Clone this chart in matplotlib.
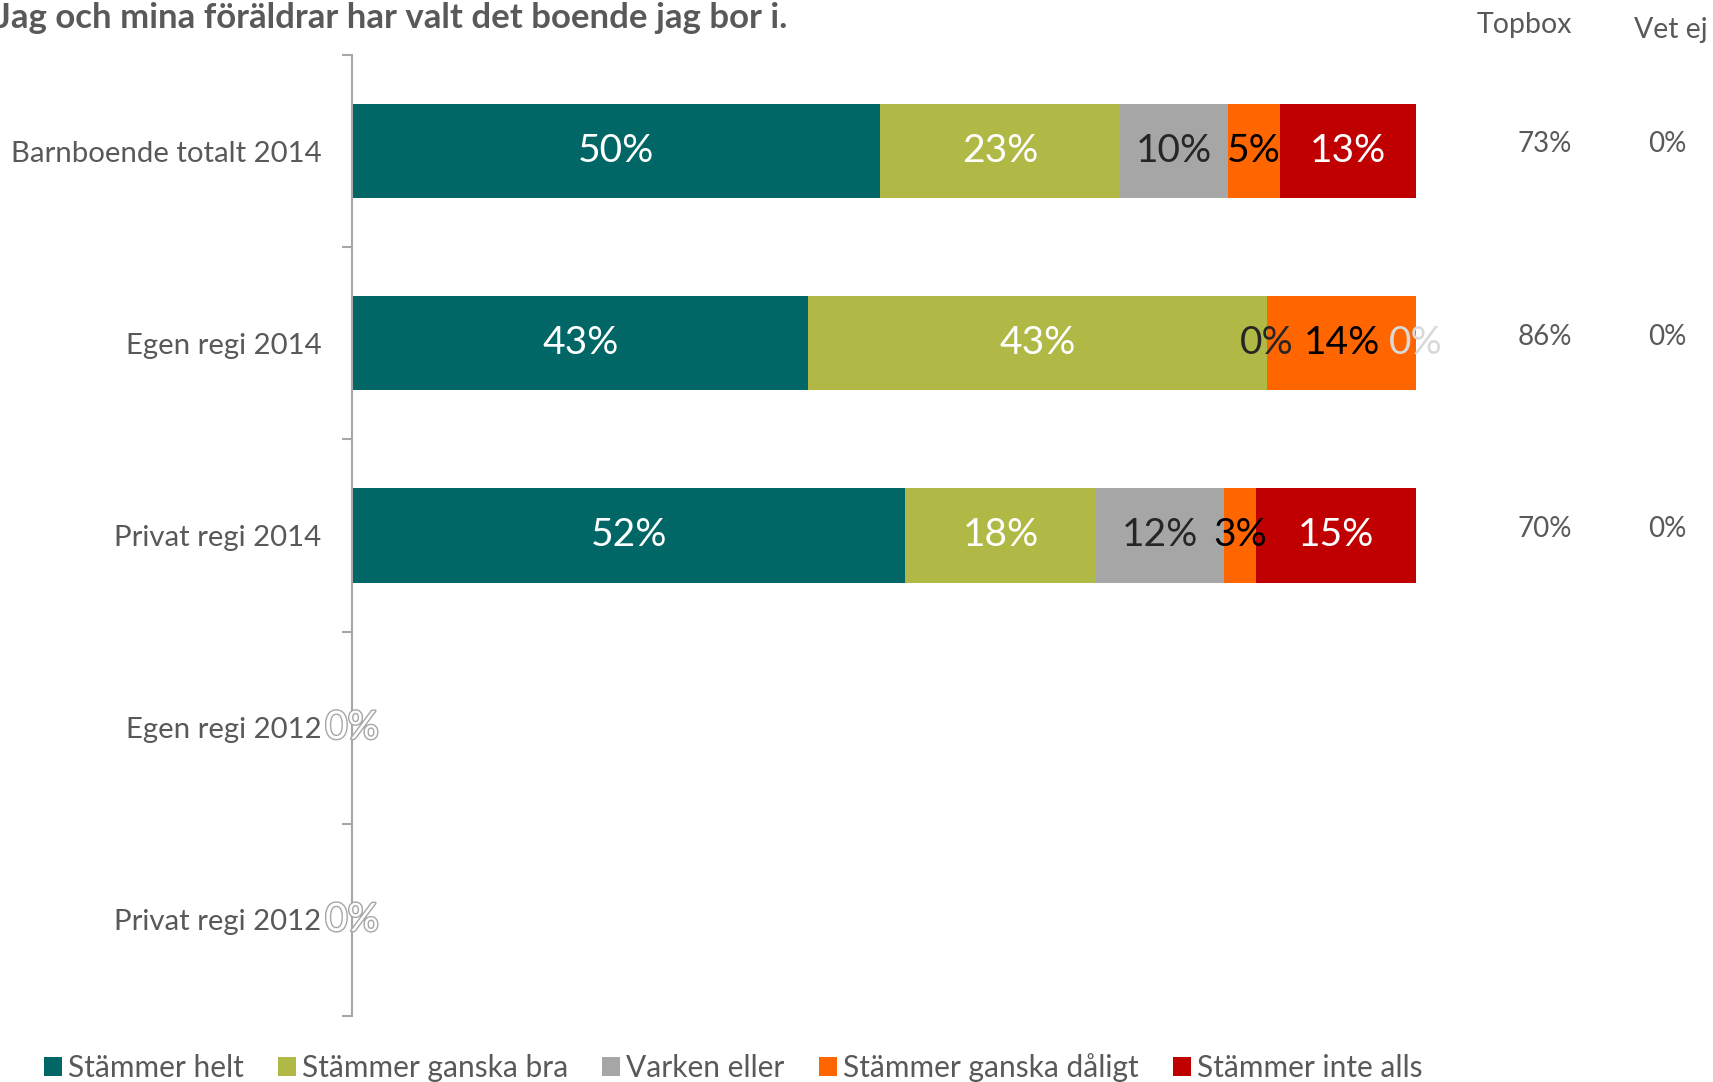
import matplotlib
matplotlib.use("Agg")
import matplotlib.pyplot as plt
import matplotlib.patheffects as pe
from matplotlib.transforms import blended_transform_factory

plt.rcParams['font.family'] = ['Lato', 'DejaVu Sans']

# data
categories = ["Barnboende totalt 2014", "Egen regi 2014", "Privat regi 2014",
              "Egen regi 2012", "Privat regi 2012"]
series = ["Stämmer helt", "Stämmer ganska bra", "Varken eller",
          "Stämmer ganska dåligt", "Stämmer inte alls"]
helt = [49.6, 42.9, 52.0, 0, 0]
bra = [22.6, 43.1, 17.9, 0, 0]
varken = [10.1, 0.0, 12.1, 0, 0]
daligt = [4.9, 14.0, 3.0, 0, 0]
inte = [12.8, 0.0, 15.0, 0, 0]
topbox = [73, 86, 70]
vetej = [0, 0, 0]

colors = ["#006666", "#B0B945", "#A6A6A6", "#FF6600", "#C00000"]
label_colors = ["white", "white", "#262626", "black", "white"]
grey = "#595959"

fig = plt.figure(figsize=(17.13, 10.82), dpi=100)
ax = fig.add_axes([352/1713, 1 - 1016/1082, (1416 - 352)/1713, (1016 - 55)/1082])

ypos = list(range(len(categories)))
left = [0.0] * len(categories)
for vals, name, col, lc in zip([helt, bra, varken, daligt, inte], series, colors, label_colors):
    ax.barh(ypos, vals, left=left, height=0.49, color=col, label=name)
    for i, v in enumerate(vals):
        total = helt[i] + bra[i] + varken[i] + daligt[i] + inte[i]
        x = left[i] + v / 2
        if total == 0:
            # all labels stacked at zero -> hollow look
            if name == series[0]:
                ax.text(x, i, "0%", ha="center", va="center", fontsize=28, color="white",
                        path_effects=[pe.withStroke(linewidth=2, foreground="#A6A6A6")])
            continue
        c = lc
        if v == 0 and lc == "white":
            c = "#D9D9D9"
        ax.text(x, i, f"{v:.0f}%", ha="center", va="center", fontsize=28, color=c)
    left = [l + v for l, v in zip(left, vals)]

ax.set_xlim(0, 100)
ax.set_ylim(len(categories) - 0.5, -0.5)
ax.set_yticks(ypos)
ax.set_yticklabels(categories, fontsize=21.2, color=grey)
ax.tick_params(axis="y", which="major", length=0, pad=22)
ax.set_yticks([i - 0.5 for i in range(len(categories) + 1)], minor=True)
ax.tick_params(axis="y", which="minor", length=7, width=1.5, color="#A6A6A6")
ax.set_xticks([])
for s in ["top", "right", "bottom"]:
    ax.spines[s].set_visible(False)
ax.spines["left"].set_color("#A6A6A6")
ax.spines["left"].set_linewidth(1.5)

# side columns
tr = blended_transform_factory(fig.transFigure, ax.transData)
fig.text(1524/1713, 1 - 25/1082, "Topbox", ha="center", va="center", fontsize=20.5, color=grey)
fig.text(1671/1713, 1 - 30/1082, "Vet ej", ha="center", va="center", fontsize=20.5, color=grey)
for i, (t, v) in enumerate(zip(topbox, vetej)):
    ax.text(1545/1713, i - 0.035, f"{t}%", transform=tr, ha="center", va="center",
            fontsize=20, color=grey)
    ax.text(1667/1713, i - 0.035, f"{v}%", transform=tr, ha="center", va="center",
            fontsize=20, color=grey)

fig.text(-4/1713, 1 - 18/1082, "Jag och mina föräldrar har valt det boende jag bor i.",
         ha="left", va="center", fontsize=25, fontweight="bold", color=grey)

fig.legend(loc="center left", bbox_to_anchor=(44/1713, 1 - 1068/1082), ncol=5, frameon=False,
           fontsize=21.5, labelcolor=grey, handlelength=0.6, handleheight=0.6,
           handletextpad=0.2, columnspacing=1.15, borderpad=0, borderaxespad=0)

fig.savefig("out.png", dpi=100)
